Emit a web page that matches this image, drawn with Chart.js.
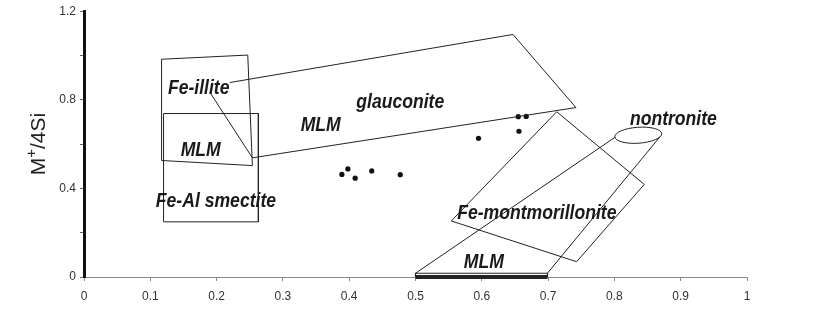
<!DOCTYPE html>
<html>
<head>
<meta charset="utf-8">
<script src="https://cdn.jsdelivr.net/npm/chart.js@4/dist/chart.umd.min.js"></script>
<style>
    body { margin: 0; background: #fff; }
    #wrap { width: 826px; height: 310px; }
</style>
</head>
<body>
<div id="wrap"><canvas id="chart" width="826" height="310"></canvas></div>
<script>
// Ticks
const xTickLabels = ['0', '0.1', '0.2', '0.3', '0.4', '0.5', '0.6', '0.7', '0.8', '0.9', '1']
const yTickLabels = ['0', '', '0.4', '', '0.8', '', '1.2']

// Amostras (pontos)
const sampleX = [0.389, 0.398, 0.409, 0.434, 0.477, 0.595, 0.655, 0.667, 0.656]
const sampleY = [0.463, 0.488, 0.446, 0.479, 0.462, 0.626, 0.724, 0.725, 0.658]

// Campos
const feIlliteX = [0.117, 0.247, 0.254, 0.117, 0.117]
const feIlliteY = [0.983, 1.002, 0.503, 0.526, 0.983]

const feIlliteDiagX = [0.190, 0.254]
const feIlliteDiagY = [0.833, 0.538]

const smectiteX = [0.120, 0.263, 0.263, 0.120, 0.120]
const smectiteY = [0.738, 0.738, 0.249, 0.249, 0.738]

const glauconiteX = [0.220, 0.647, 0.742, 0.254]
const glauconiteY = [0.878, 1.095, 0.765, 0.538]

const montmorilloniteX = [0.554, 0.713, 0.845, 0.743, 0.554]
const montmorilloniteY = [0.253, 0.746, 0.418, 0.069, 0.253]

const nontroniteLeftX = [0.500, 0.801]
const nontroniteLeftY = [0.017, 0.631]
const nontroniteRightX = [0.699, 0.869]
const nontroniteRightY = [0.017, 0.634]

const mlmBarX = [0.500, 0.500, 0.699, 0.699]
const mlmBarY = [0.000, 0.017, 0.017, 0.000]
const mlmThickX = [0.500, 0.699]
const mlmThickY = [0.000, 0.000]

// Elipse da nontronita (centro e raios em unidades dos eixos)
const nontroniteEllipse = { x: 0.836, y: 0.640, rx: 0.0354, ry: 0.036 }

// Nomes dos campos
const fieldNames = ['Fe-illite', 'MLM', 'Fe-Al smectite', 'MLM', 'glauconite', 'nontronite', 'Fe-montmorillonite', 'MLM']
const fieldNameX = [0.173, 0.176, 0.199, 0.357, 0.477, 0.889, 0.683, 0.603]
const fieldNameY = [0.828, 0.545, 0.316, 0.661, 0.763, 0.688, 0.261, 0.039]

function zip(xs, ys) {
    return xs.map((x, i) => ({ x: x, y: ys[i] }))
}

function outline(xs, ys, width) {
    return {
        data: zip(xs, ys),
        showLine: true,
        borderColor: '#222',
        borderWidth: width || 1,
        pointRadius: 0,
        fill: false,
        clip: false
    }
}

// Plugin para elipse, nomes e título do eixo y
const annotationsPlugin = {
    id: 'annotations',
    afterDatasetsDraw(chart) {
        const ctx = chart.ctx
        const xs = chart.scales.x
        const ys = chart.scales.y

        ctx.save()
        const cx = xs.getPixelForValue(nontroniteEllipse.x)
        const cy = ys.getPixelForValue(nontroniteEllipse.y)
        const rx = Math.abs(xs.getPixelForValue(nontroniteEllipse.x + nontroniteEllipse.rx) - cx)
        const ry = Math.abs(ys.getPixelForValue(nontroniteEllipse.y + nontroniteEllipse.ry) - cy)
        ctx.beginPath()
        ctx.ellipse(cx, cy, rx, ry, -0.07, 0, Math.PI * 2)
        ctx.strokeStyle = '#222'
        ctx.lineWidth = 1
        ctx.stroke()
        ctx.restore()

        // nomes dos campos, letra estreita
        fieldNames.forEach((name, i) => {
            ctx.save()
            ctx.translate(xs.getPixelForValue(fieldNameX[i]), ys.getPixelForValue(fieldNameY[i]))
            ctx.scale(0.88, 1)
            ctx.fillStyle = '#1a1a1a'
            ctx.font = 'bold italic 20px "Liberation Sans", Arial, sans-serif'
            ctx.textAlign = 'center'
            ctx.textBaseline = 'alphabetic'
            ctx.fillText(name, 0, 0)
            ctx.restore()
        })

        // titulo do eixo y: M+/4Si
        ctx.save()
        ctx.translate(45, 144)
        ctx.rotate(-Math.PI / 2)
        ctx.textAlign = 'left'
        ctx.fillStyle = '#222'
        const big = '21px "Liberation Sans", Arial, sans-serif'
        const small = '15px "Liberation Sans", Arial, sans-serif'
        ctx.font = big
        const wM = ctx.measureText('M').width
        ctx.font = small
        const wPlus = ctx.measureText('+').width
        ctx.font = big
        const wRest = ctx.measureText('/4Si').width
        let px = -(wM + wPlus + wRest) / 2
        ctx.fillText('M', px, 0)
        px += wM
        ctx.font = small
        ctx.fillText('+', px, -9)
        px += wPlus
        ctx.font = big
        ctx.fillText('/4Si', px, 0)
        ctx.restore()
    }
}

const ctx = document.getElementById('chart').getContext('2d')
new Chart(ctx, {
    type: 'scatter',
    data: {
        datasets: [
            outline(feIlliteX, feIlliteY),
            outline(feIlliteDiagX, feIlliteDiagY),
            outline(smectiteX, smectiteY),
            outline(glauconiteX, glauconiteY),
            outline(montmorilloniteX, montmorilloniteY),
            outline(nontroniteLeftX, nontroniteLeftY),
            outline(nontroniteRightX, nontroniteRightY),
            outline(mlmBarX, mlmBarY, 1.2),
            outline(mlmThickX, mlmThickY, 4),
            {
                data: zip(sampleX, sampleY),
                pointRadius: 2.6,
                pointBackgroundColor: '#111',
                pointBorderWidth: 0,
                showLine: false
            }
        ]
    },
    options: {
        responsive: false,
        animation: false,
        layout: { padding: { left: 0, right: 79, top: 10, bottom: 0 } },
        plugins: {
            legend: { display: false },
            tooltip: { enabled: false }
        },
        scales: {
            x: {
                type: 'linear',
                min: 0,
                max: 1,
                afterFit: (scale) => { scale.height = 33 },
                ticks: {
                    stepSize: 0.1,
                    color: '#333',
                    padding: 8,
                    maxRotation: 0,
                    font: { family: '"Liberation Sans", Arial, sans-serif', size: 12 },
                    callback: (value, index) => xTickLabels[index]
                },
                grid: { drawOnChartArea: false, drawTicks: true, tickLength: 4, color: '#888' },
                border: { display: true, color: '#888', width: 1 }
            },
            y: {
                type: 'linear',
                min: 0,
                max: 1.2,
                afterFit: (scale) => { scale.width = 84 },
                ticks: {
                    stepSize: 0.2,
                    color: '#333',
                    padding: 4,
                    font: { family: '"Liberation Sans", Arial, sans-serif', size: 12 },
                    callback: (value, index) => yTickLabels[index]
                },
                grid: { drawOnChartArea: false, drawTicks: true, tickLength: 4, color: '#666' },
                border: { display: true, color: '#111', width: 3 }
            }
        }
    },
    plugins: [annotationsPlugin]
})
</script>
</body>
</html>
